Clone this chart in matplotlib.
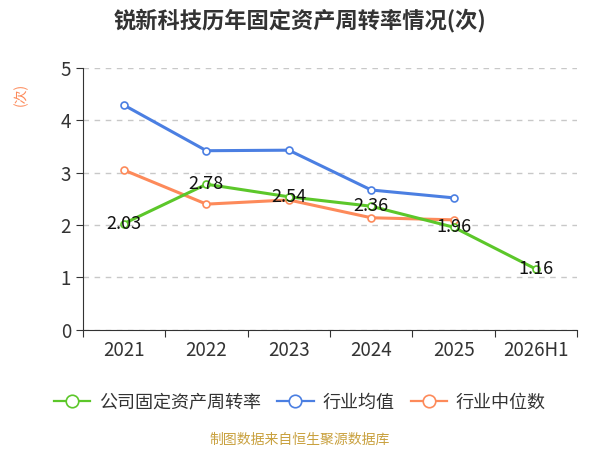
import matplotlib.pyplot as plt
import numpy as np

plt.rcParams['font.family'] = ['Noto Sans CJK SC', 'DejaVu Sans']

# data
years = ['2021', '2022', '2023', '2024', '2025', '2026H1']
company = [2.03, 2.78, 2.54, 2.36, 1.96, 1.16]
ind_mean = [4.29, 3.42, 3.43, 2.67, 2.52]
ind_median = [3.05, 2.40, 2.48, 2.14, 2.10]

c_green = '#5cc72a'
c_blue = '#4b7fe2'
c_orange = '#fd8a5a'

fig = plt.figure(figsize=(6, 4.5), dpi=100)
ax = fig.add_axes([0.138, 0.267, 0.824, 0.582])

x = np.arange(len(years))
ax.plot(x, company, color=c_green, lw=2.2, marker='o', ms=5,
        mfc='white', mew=1.2, label='公司固定资产周转率', zorder=3)
ax.plot(x[:len(ind_mean)], ind_mean, color=c_blue, lw=2.2, marker='o', ms=5,
        mfc='white', mew=1.2, label='行业均值', zorder=2)
ax.plot(x[:len(ind_median)], ind_median, color=c_orange, lw=2.2, marker='o', ms=5,
        mfc='white', mew=1.2, label='行业中位数', zorder=2)

for xi, v in zip(x, company):
    ax.text(xi, v, f'{v:.2f}', ha='center', va='center', fontsize=13,
            color='#111111', zorder=5)

ax.set_xlim(-0.5, len(years) - 0.5)
ax.set_ylim(0, 5)
ax.set_yticks(range(6))
ax.set_xticks(np.arange(-0.5, len(years), 1.0))
ax.set_xticklabels([])
ax.set_xticks(x, minor=True)
ax.set_xticklabels(years, minor=True)
ax.tick_params(axis='x', which='minor', length=0, pad=7, labelsize=13.5, labelcolor='#333333')
ax.tick_params(axis='x', which='major', length=5, color='#333333')
ax.tick_params(axis='y', length=5, color='#333333', labelsize=13.5, labelcolor='#333333')

ax.grid(axis='y', ls=(0, (4, 4)), color='#c8c8c8', lw=1)
for s in ['top', 'right']:
    ax.spines[s].set_visible(False)
for s in ['left', 'bottom']:
    ax.spines[s].set_color('#333333')

ax.set_ylabel('(次)', color=c_orange, fontsize=10)
ax.yaxis.set_label_coords(-0.11, 0.9)

fig.text(0.5, 0.955, '锐新科技历年固定资产周转率情况(次)', ha='center', va='center',
         fontsize=16, fontweight='bold', color='#333333')

leg = fig.legend(loc='center', bbox_to_anchor=(0.5, 0.105), ncol=3, frameon=False,
                 fontsize=13, handlelength=2.0, columnspacing=0.9, handletextpad=0.5,
                 labelcolor='#333333', markerscale=1.8)
for h in leg.legend_handles:
    h.set_linewidth(1.6)
    h.set_markeredgewidth(1.2)

fig.text(0.5, 0.022, '制图数据来自恒生聚源数据库', ha='center', va='center',
         fontsize=10, color='#c9a13f')

fig.savefig('out.png')
